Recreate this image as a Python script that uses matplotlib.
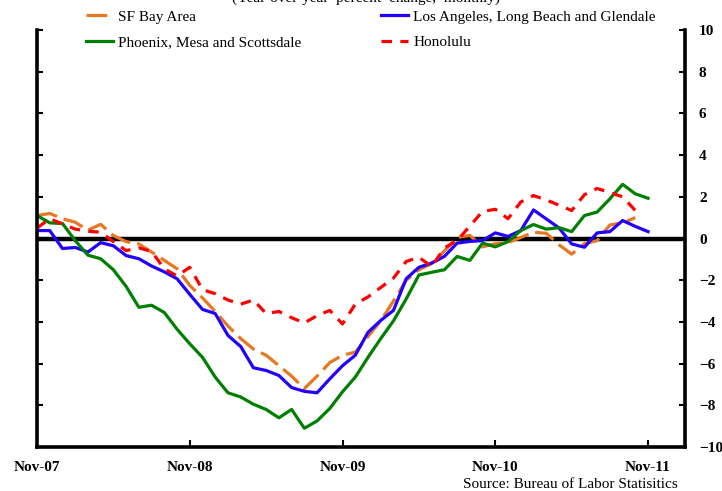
import numpy as np
import matplotlib
matplotlib.use("Agg")
import matplotlib.pyplot as plt

# Monthly data, Nov-07 .. Nov-11 (year-over-year % change)
months = ["Nov-07", "Dec-07"] + [f"{m}-{y:02d}" for y in range(8, 12) for m in
          ["Jan", "Feb", "Mar", "Apr", "May", "Jun", "Jul", "Aug", "Sep", "Oct", "Nov", "Dec"]]
months = months[:49]
tick_labels = ["Nov-07", "Nov-08", "Nov-09", "Nov-10", "Nov-11"]

sf_bay = [1.1, 1.2, 0.95, 0.78, 0.4, 0.68, 0.14, -0.15, -0.26, -0.65,
          -1.05, -1.45, -2.25, -2.85, -3.5, -4.2, -4.8, -5.3, -5.6, -6.1,
          -6.6, -7.2, -6.6, -5.95, -5.6, -5.45, -4.7, -3.95, -3.0, -2.0,
          -1.5, -1.2, -0.6, 0.05, 0.15, -0.4, -0.25, -0.2, 0.05, 0.3,
          0.25, -0.3, -0.75, -0.25, -0.1, 0.65, 0.75, 1.0, np.nan]

los_angeles = [0.38, 0.38, -0.48, -0.43, -0.65, -0.2, -0.35, -0.82, -0.97, -1.32,
               -1.6, -1.93, -2.68, -3.4, -3.6, -4.65, -5.18, -6.2, -6.33, -6.57,
               -7.15, -7.33, -7.4, -6.73, -6.1, -5.6, -4.5, -3.93, -3.45, -1.93,
               -1.38, -1.18, -0.86, -0.22, -0.14, -0.1, 0.27, 0.1, 0.38, 1.37,
               0.94, 0.51, -0.26, -0.42, 0.27, 0.33, 0.86, 0.58, 0.33]

phoenix = [1.1, 0.75, 0.72, -0.1, -0.8, -0.97, -1.5, -2.3, -3.3, -3.2,
           -3.55, -4.35, -5.05, -5.7, -6.65, -7.4, -7.6, -7.95, -8.2, -8.6,
           -8.2, -9.1, -8.75, -8.15, -7.35, -6.65, -5.7, -4.8, -3.95, -2.9,
           -1.75, -1.62, -1.5, -0.86, -1.05, -0.22, -0.4, -0.15, 0.38, 0.67,
           0.45, 0.52, 0.33, 1.1, 1.27, 1.9, 2.6, 2.14, 1.93]

honolulu = [0.5, 0.95, 0.7, 0.45, 0.35, 0.3, -0.15, -0.58, -0.45, -0.62,
            -1.45, -1.8, -1.38, -2.45, -2.65, -2.95, -3.15, -2.95, -3.6, -3.5,
            -3.8, -4.05, -3.7, -3.45, -4.1, -3.15, -2.8, -2.35, -1.9, -1.1,
            -0.9, -1.35, -0.45, -0.1, 0.6, 1.3, 1.4, 0.95, 1.75, 2.06,
            1.85, 1.6, 1.34, 2.1, 2.4, 2.2, 2.0, 1.34, np.nan]

x = np.arange(len(months))

plt.rcParams['font.family'] = ['Liberation Serif', 'DejaVu Serif']

fig = plt.figure(figsize=(7.22, 4.91), dpi=100)
ax = fig.add_axes([37/722, 1-447/491, (685-37)/722, (447-30)/491])

lw = 2.3
l_sf, = ax.plot(x, sf_bay, color='#E87722', lw=lw, dashes=(6.5, 2.2), label='SF Bay Area')
l_la, = ax.plot(x, los_angeles, color='#2200FF', lw=lw, label='Los Angeles, Long Beach and Glendale')
l_ph, = ax.plot(x, phoenix, color='#008000', lw=lw, label='Phoenix, Mesa and Scottsdale')
l_ho, = ax.plot(x, honolulu, color='#FF0000', lw=lw, dashes=(3.3, 2.6), label='Honolulu')

ax.axhline(0, color='black', lw=3.2, zorder=1)

ax.set_xlim(0, 50.9)
ax.set_ylim(-10, 10)
ax.set_yticks(np.arange(-10, 11, 2))
ax.set_xticks([0, 12, 24, 36, 48])
ax.set_xticklabels(tick_labels, fontweight='bold', fontsize=11)

ax.spines['top'].set_visible(False)
for s in ['left', 'right', 'bottom']:
    ax.spines[s].set_linewidth(2.6)

ax.tick_params(axis='y', which='both', direction='in', left=True, right=True,
               labelleft=False, labelright=True, length=4, width=1.5, pad=10)
ax.tick_params(axis='x', direction='in', length=5, width=1.5, pad=10)
for lab in ax.get_yticklabels():
    lab.set_fontweight('bold')
    lab.set_fontsize(11)

leg_kw = dict(frameon=False, fontsize=11, handlelength=1.75, handletextpad=0.35,
              labelspacing=0.75, borderpad=0, borderaxespad=0, loc='upper left')
leg1 = fig.legend([l_sf, l_ph], ['SF Bay Area', 'Phoenix, Mesa and Scottsdale'],
                  bbox_to_anchor=(86/722, 1-10/491), **leg_kw)
leg2 = fig.legend([l_la, l_ho], ['Los Angeles, Long Beach and Glendale', 'Honolulu'],
                  bbox_to_anchor=(381/722, 1-10/491), **leg_kw)

fig.text(366/722, 1.0 + 2/491, '(Year-over-year  percent  change,  monthly)',
         ha='center', va='center', fontsize=11)
fig.text(678/722, 1-484/491, 'Source: Bureau of Labor Statisitics',
         ha='right', va='center', fontsize=11)

fig.savefig('out.png', dpi=100)
